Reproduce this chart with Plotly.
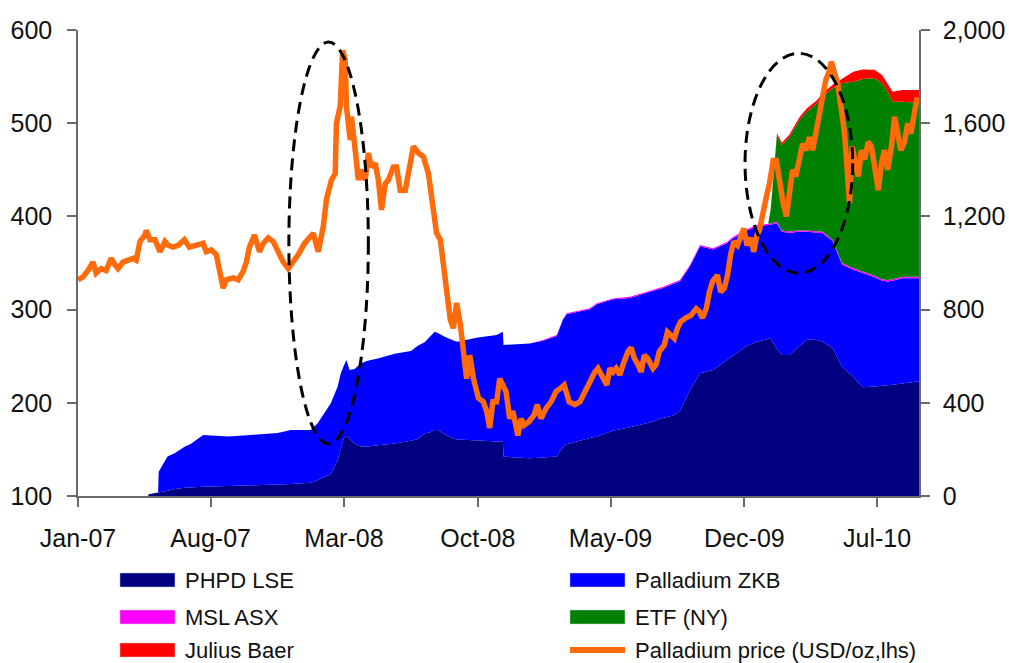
import plotly.graph_objects as go

# ---------------- data ----------------
tick_dates = ["2007-01-01", "2007-08-01", "2008-03-01", "2008-10-01", "2009-05-01", "2009-12-01", "2010-07-01"]
tick_labels = ["Jan-07", "Aug-07", "Mar-08", "Oct-08", "May-09", "Dec-09", "Jul-10"]

price_dates = [
    "2007-01-01", "2007-01-09", "2007-01-17", "2007-01-25", "2007-01-30", "2007-02-07", "2007-02-15", "2007-02-23",
    "2007-03-01", "2007-03-06", "2007-03-14", "2007-03-22", "2007-03-30", "2007-04-04", "2007-04-10", "2007-04-18",
    "2007-04-20", "2007-04-26", "2007-05-04", "2007-05-12", "2007-05-20", "2007-05-25", "2007-06-02", "2007-06-10",
    "2007-06-20", "2007-06-28", "2007-07-09", "2007-07-20", "2007-07-25", "2007-08-02", "2007-08-10", "2007-08-15",
    "2007-08-21", "2007-08-26", "2007-09-06", "2007-09-14", "2007-09-22", "2007-09-27", "2007-10-02", "2007-10-10",
    "2007-10-18", "2007-10-24", "2007-11-01", "2007-11-09", "2007-11-17", "2007-11-25", "2007-12-03", "2007-12-11",
    "2007-12-19", "2007-12-29", "2008-01-12", "2008-01-20", "2008-01-28", "2008-02-02", "2008-02-10", "2008-02-16",
    "2008-02-18", "2008-02-24", "2008-02-28", "2008-03-03", "2008-03-05", "2008-03-11", "2008-03-13", "2008-03-19",
    "2008-03-24", "2008-03-29", "2008-04-04", "2008-04-09", "2008-04-14", "2008-04-20", "2008-04-25", "2008-04-30",
    "2008-05-06", "2008-05-11", "2008-05-19", "2008-05-24", "2008-05-30", "2008-06-07", "2008-06-12", "2008-06-20",
    "2008-06-28", "2008-07-06", "2008-07-14", "2008-07-19", "2008-07-27", "2008-08-02", "2008-08-07", "2008-08-12",
    "2008-08-18", "2008-08-23", "2008-08-28", "2008-09-03", "2008-09-08", "2008-09-13", "2008-09-18", "2008-09-24",
    "2008-10-02", "2008-10-10", "2008-10-15", "2008-10-20", "2008-10-25", "2008-10-31", "2008-11-05", "2008-11-10",
    "2008-11-15", "2008-11-21", "2008-11-26", "2008-12-04", "2008-12-09", "2008-12-14", "2008-12-22", "2008-12-30",
    "2009-01-04", "2009-01-10", "2009-01-18", "2009-01-26", "2009-02-03", "2009-02-11", "2009-02-16", "2009-02-24",
    "2009-03-05", "2009-03-13", "2009-03-21", "2009-03-29", "2009-04-06", "2009-04-11", "2009-04-19", "2009-04-25",
    "2009-04-30", "2009-05-05", "2009-05-10", "2009-05-16", "2009-05-21", "2009-05-29", "2009-06-03", "2009-06-08",
    "2009-06-14", "2009-06-19", "2009-06-24", "2009-06-29", "2009-07-08", "2009-07-13", "2009-07-18", "2009-07-26",
    "2009-07-31", "2009-08-05", "2009-08-11", "2009-08-16", "2009-08-21", "2009-08-29", "2009-09-07", "2009-09-15",
    "2009-09-20", "2009-09-25", "2009-10-01", "2009-10-06", "2009-10-11", "2009-10-19", "2009-10-24", "2009-10-30",
    "2009-11-04", "2009-11-09", "2009-11-14", "2009-11-20", "2009-11-25", "2009-11-30", "2009-12-05", "2009-12-11",
    "2009-12-16", "2009-12-21", "2009-12-25", "2009-12-31", "2010-01-05", "2010-01-10", "2010-01-16", "2010-01-21",
    "2010-01-26", "2010-02-01", "2010-02-06", "2010-02-11", "2010-02-16", "2010-02-21", "2010-02-27", "2010-03-04",
    "2010-03-09", "2010-03-15", "2010-03-20", "2010-03-25", "2010-03-31", "2010-04-05", "2010-04-10", "2010-04-16",
    "2010-04-19", "2010-04-24", "2010-04-29", "2010-05-05", "2010-05-10", "2010-05-15", "2010-05-18", "2010-05-22",
    "2010-05-26", "2010-06-01", "2010-06-06", "2010-06-11", "2010-06-17", "2010-06-22", "2010-06-27", "2010-07-03",
    "2010-07-08", "2010-07-13", "2010-07-18", "2010-07-24", "2010-07-29", "2010-08-03", "2010-08-08", "2010-08-14",
    "2010-08-19", "2010-08-24", "2010-08-29", "2010-09-03",
]
price_usd = [
    332, 335, 342, 351, 339, 344, 342, 355,
    348, 344, 351, 353, 355, 353, 373, 380,
    385, 375, 375, 362, 373, 369, 367, 369,
    375, 367, 369, 371, 362, 364, 359, 345,
    323, 332, 334, 332, 341, 351, 367, 380,
    362, 371, 377, 373, 362, 351, 344, 351,
    359, 371, 382, 362, 389, 418, 439, 446,
    500, 518, 578, 568, 518, 482, 507, 471,
    439, 450, 439, 468, 453, 457, 439, 407,
    435, 439, 453, 453, 428, 428, 446, 475,
    468, 464, 446, 418, 382, 375, 350, 325,
    289, 280, 307, 284, 248, 226, 251, 226,
    205, 201, 191, 173, 201, 201, 226, 219,
    212, 183, 191, 165, 183, 176, 180, 187,
    198, 183, 194, 201, 212, 216, 219, 201,
    198, 201, 212, 223, 233, 237, 226, 219,
    237, 233, 237, 230, 241, 255, 259, 248,
    241, 233, 251, 248, 237, 241, 255, 262,
    276, 273, 269, 280, 287, 291, 294, 301,
    298, 291, 301, 319, 330, 337, 319, 323,
    337, 359, 373, 369, 380, 387, 369, 377,
    362, 380, 385, 407, 421, 435, 460, 460,
    435, 414, 400, 428, 450, 443, 460, 478,
    471, 485, 471, 489, 511, 528, 546, 557,
    566, 554, 543, 514, 489, 443, 414, 475,
    461, 443, 471, 461, 480, 475, 454, 428,
    457, 471, 450, 475, 507, 489, 471, 480,
    500, 489, 511, 528,
]

hold_dates = [
    "2007-04-23", "2007-04-24", "2007-05-09", "2007-05-10", "2007-05-24", "2007-06-05", "2007-06-21", "2007-06-30",
    "2007-07-20", "2007-08-29", "2007-10-04", "2007-11-16", "2007-12-07", "2008-01-08", "2008-01-19", "2008-02-09",
    "2008-02-20", "2008-02-25", "2008-03-01", "2008-03-05", "2008-03-10", "2008-03-18", "2008-03-28", "2008-04-08",
    "2008-04-24", "2008-05-21", "2008-06-16", "2008-06-27", "2008-07-08", "2008-07-18", "2008-07-24", "2008-07-29",
    "2008-08-09", "2008-08-25", "2008-08-30", "2008-09-23", "2008-10-01", "2008-10-31", "2008-11-10", "2008-11-11",
    "2008-12-23", "2009-01-13", "2009-02-04", "2009-02-14", "2009-02-20", "2009-03-29", "2009-04-09", "2009-05-05",
    "2009-05-16", "2009-06-01", "2009-06-28", "2009-07-24", "2009-08-09", "2009-08-20", "2009-09-05", "2009-09-21",
    "2009-10-12", "2009-11-03", "2009-11-12", "2009-12-05", "2009-12-21", "2010-01-08", "2010-01-12", "2010-01-22",
    "2010-01-30", "2010-02-11", "2010-02-27", "2010-03-11", "2010-03-27", "2010-04-05", "2010-04-21", "2010-05-06",
    "2010-05-24", "2010-06-08", "2010-06-27", "2010-07-09", "2010-07-18", "2010-07-26", "2010-08-10", "2010-08-19",
    "2010-09-04", "2010-09-06",
]
phpd_lse = [
    0, 8, 15, 15, 22, 30, 35, 37,
    40, 43, 45, 49, 52, 57, 69, 93,
    155, 200, 250, 258, 245, 225, 212, 212,
    218, 225, 237, 245, 268, 275, 283, 283,
    265, 245, 243, 240, 240, 235, 233, 169,
    162, 165, 169, 210, 222, 249, 255, 280,
    285, 295, 312, 335, 345, 365, 455, 527,
    541, 584, 600, 645, 662, 675, 677, 630,
    605, 605, 641, 672, 670, 662, 634, 555,
    512, 467, 470, 472, 476, 478, 483, 487,
    491, 491,
]
palladium_zkb = [
    0, 0, 0, 89, 147, 155, 177, 186,
    222, 212, 217, 221, 231, 226, 243, 305,
    315, 327, 310, 326, 296, 320, 358, 368,
    372, 385, 385, 400, 392, 415, 422, 417,
    419, 420, 419, 436, 440, 456, 472, 479,
    493, 501, 518, 546, 558, 553, 568, 564,
    561, 555, 560, 558, 565, 557, 531, 545,
    517, 501, 504, 494, 495, 487, 487, 541,
    529, 524, 494, 462, 459, 466, 460, 439,
    459, 490, 469, 452, 445, 446, 452, 448,
    444, 444,
]
msl_asx = [
    0, 0, 0, 0, 0, 0, 0, 0,
    0, 0, 0, 0, 0, 0, 0, 0,
    0, 0, 0, 0, 0, 0, 0, 0,
    0, 0, 0, 0, 0, 0, 0, 0,
    0, 0, 0, 0, 0, 0, 0, 0,
    0, 4, 4, 4, 4, 4, 4, 4,
    4, 5, 5, 5, 5, 5, 5, 5,
    5, 5, 6, 6, 6, 6, 6, 6,
    6, 6, 6, 6, 6, 6, 6, 6,
    6, 6, 6, 6, 6, 6, 6, 6,
    6, 6,
]
etf_ny = [
    0, 0, 0, 0, 0, 0, 0, 0,
    0, 0, 0, 0, 0, 0, 0, 0,
    0, 0, 0, 0, 0, 0, 0, 0,
    0, 0, 0, 0, 0, 0, 0, 0,
    0, 0, 0, 0, 0, 0, 0, 0,
    0, 0, 0, 0, 0, 0, 0, 0,
    0, 0, 0, 0, 0, 0, 0, 0,
    0, 0, 0, 0, 0, 0, 60, 372,
    366, 405, 473, 510, 550, 580, 650, 771,
    801, 827, 848, 841, 808, 762, 751, 749,
    749, 749,
]
julius_baer = [
    0, 0, 0, 0, 0, 0, 0, 0,
    0, 0, 0, 0, 0, 0, 0, 0,
    0, 0, 0, 0, 0, 0, 0, 0,
    0, 0, 0, 0, 0, 0, 0, 0,
    0, 0, 0, 0, 0, 0, 0, 0,
    0, 0, 0, 0, 0, 0, 0, 0,
    0, 0, 0, 0, 0, 0, 0, 0,
    0, 0, 0, 0, 0, 0, 3, 8,
    10, 12, 12, 14, 14, 15, 15, 20,
    43, 40, 36, 36, 36, 43, 50, 53,
    53, 53,
]

area_series = [
    ("PHPD LSE", phpd_lse, "#000080"),
    ("Palladium ZKB", palladium_zkb, "#0000FF"),
    ("MSL ASX", msl_asx, "#FF00FF"),
    ("ETF (NY)", etf_ny, "#008000"),
    ("Julius Baer", julius_baer, "#FF0000"),
]
price_name = "Palladium price (USD/oz,lhs)"
price_color = "#FF6A0A"

FONT = "Liberation Sans, Arial, sans-serif"

fig = go.Figure()
for name, vals, col in area_series:
    fig.add_trace(go.Scatter(
        x=hold_dates, y=vals, name=name, mode="lines",
        stackgroup="holdings", fill="tonexty", fillcolor=col,
        line=dict(color=col, width=0), yaxis="y", showlegend=False,
        hoverinfo="skip",
    ))

fig.add_trace(go.Scatter(
    x=price_dates, y=price_usd, name=price_name, mode="lines",
    line=dict(color=price_color, width=5.5), yaxis="y2", showlegend=False,
))

axis_line = dict(showline=True, linecolor="#6a6a6a", linewidth=1.5, ticks="outside",
                 tickcolor="#6a6a6a", tickwidth=1.5, ticklen=9, showgrid=False, zeroline=False,
                 automargin=False)

fig.update_layout(
    width=1009, height=663,
    margin=dict(l=78, r=90, t=30, b=167),
    paper_bgcolor="white", plot_bgcolor="white",
    font=dict(family=FONT, size=25, color="#111111"),
    showlegend=False,
    xaxis=dict(type="date", range=["2007-01-01", "2010-09-06"], tickvals=tick_dates, ticktext=tick_labels,
               ticklabelstandoff=10, **axis_line),
    yaxis=dict(side="right", range=[0, 2000], dtick=400, tickformat=",", ticklabelstandoff=8, **axis_line),
    yaxis2=dict(side="left", overlaying="y", range=[100, 600], dtick=100, ticklabelstandoff=10, **axis_line),
)

# dashed ellipses highlighting price spikes
for x0, x1, y0, y1 in [("2007-12-04", "2008-04-09", 156, 587), ("2009-12-02", "2010-05-23", 339, 575)]:
    fig.add_shape(type="circle", xref="x", yref="y2", x0=x0, x1=x1, y0=y0, y1=y1,
                  line=dict(color="black", width=3, dash="12px,7px"), layer="above")

# custom legend (two columns, three rows)
legend_items = [(name, col, "box") for name, _, col in area_series] + [(price_name, price_color, "line")]
col_x = [(0.0499, 0.1153, 0.1249), (0.585, 0.6504, 0.6599)]
row_y = [-0.1803, -0.2597, -0.3305]
for i, (name, col, kind) in enumerate(legend_items):
    sx0, sx1, tx = col_x[i % 2]
    ry = row_y[i // 2]
    if kind == "box":
        fig.add_shape(type="rect", xref="paper", yref="paper", x0=sx0, x1=sx1, y0=ry - 0.015, y1=ry + 0.015,
                      fillcolor=col, line=dict(color="#cccccc", width=0.5))
    else:
        fig.add_shape(type="line", xref="paper", yref="paper", x0=sx0, x1=sx1, y0=ry, y1=ry,
                      line=dict(color=col, width=6))
    fig.add_annotation(x=tx, y=ry, xref="paper", yref="paper", text=name, showarrow=False,
                       xanchor="left", yanchor="middle", font=dict(family=FONT, size=22, color="#111111"))

fig.write_html("out.html")
